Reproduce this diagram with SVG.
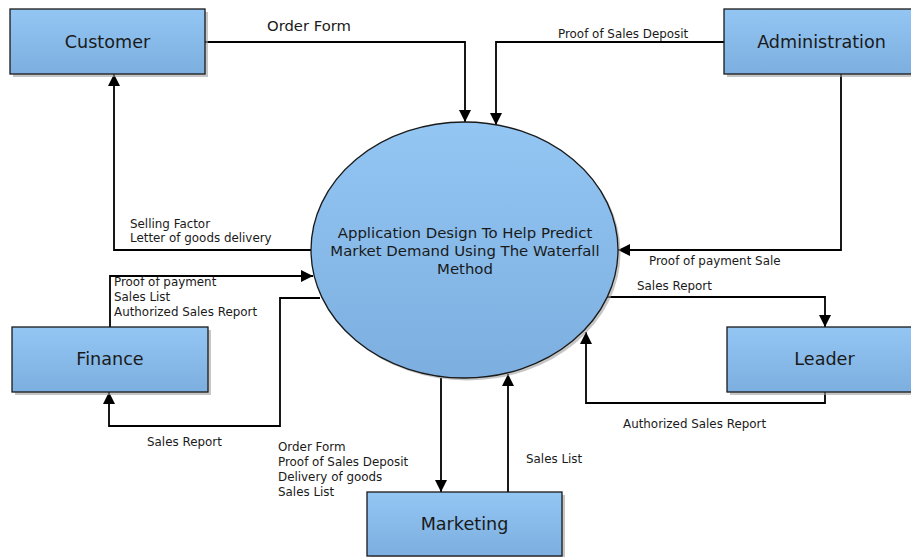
<svg xmlns="http://www.w3.org/2000/svg" width="911" height="557" viewBox="0 0 911 557">
<defs>
<linearGradient id="g" x1="0" y1="0" x2="0" y2="1">
<stop offset="0" stop-color="#93c6f3"/>
<stop offset="1" stop-color="#7cafdf"/>
</linearGradient>
<marker id="a" viewBox="0 0 12 12" refX="12" refY="6" markerWidth="12" markerHeight="12" markerUnits="userSpaceOnUse" orient="auto">
<path d="M0,0 L12,6 L0,12 Z" fill="#000"/>
</marker>
</defs>
<style>
.box{fill:url(#g);stroke:#1a1a1a;stroke-width:1.3}
.sh{fill:#a0a0a0;opacity:0.6}
.nt{font-family:"DejaVu Sans",sans-serif;font-size:17.6px;fill:#1a1a1a;text-anchor:middle}
.ct{font-family:"DejaVu Sans",sans-serif;font-size:14.9px;fill:#1a1a1a;text-anchor:middle}
.lb{font-family:"DejaVu Sans",sans-serif;font-size:11.9px;fill:#1a1a1a}
.c{fill:none;stroke:#000;stroke-width:1.8;marker-end:url(#a)}
</style>
<rect width="911" height="557" fill="#fff"/>
<g id="connectors">
<polyline class="c" points="205,42 465,42 465,122"/>
<polyline class="c" points="724,42 496,42 496,125"/>
<polyline class="c" points="841,74 841,250 618,250"/>
<polyline class="c" points="606,297 825,297 825,327"/>
<polyline class="c" points="825,392 825,403 586,403 586,332"/>
<polyline class="c" points="311,250 114,250 114,74"/>
<polyline class="c" points="110,327 110,276 313,276"/>
<polyline class="c" points="320,298 280,298 280,426 109,426 109,392"/>
<polyline class="c" points="441,378 441,492"/>
<polyline class="c" points="508,492 508,374"/>
</g>
<g id="labels">
<text class="lb" x="267" y="31" style="font-size:14.8px">Order Form</text>
<text class="lb" x="558" y="38">Proof of Sales Deposit</text>
<text class="lb" x="649" y="265">Proof of payment Sale</text>
<text class="lb" x="637" y="290">Sales Report</text>
<text class="lb" x="623" y="428">Authorized Sales Report</text>
<text class="lb" x="130" y="228">Selling Factor</text>
<text class="lb" x="130" y="242">Letter of goods delivery</text>
<text class="lb" x="114" y="286">Proof of payment</text>
<text class="lb" x="114" y="301">Sales List</text>
<text class="lb" x="114" y="316">Authorized Sales Report</text>
<text class="lb" x="147" y="446">Sales Report</text>
<text class="lb" x="278" y="451">Order Form</text>
<text class="lb" x="278" y="466">Proof of Sales Deposit</text>
<text class="lb" x="278" y="481">Delivery of goods</text>
<text class="lb" x="278" y="496">Sales List</text>
<text class="lb" x="526" y="463">Sales List</text>
</g>
<g id="process">
<ellipse class="sh" cx="467" cy="252.5" rx="153.5" ry="128"/>
<ellipse class="box" cx="464.5" cy="250" rx="153.5" ry="128"/>
<text class="ct" x="465" y="238">Application Design To Help Predict</text>
<text class="ct" x="465" y="256">Market Demand Using The Waterfall</text>
<text class="ct" x="465" y="274">Method</text>
</g>
<g id="customer">
<rect class="sh" x="13" y="12" width="195" height="65"/>
<rect class="box" x="10" y="9" width="195" height="65"/>
<text class="nt" x="107.5" y="48">Customer</text>
</g>
<g id="administration">
<rect class="sh" x="727" y="12" width="195" height="65"/>
<rect class="box" x="724" y="9" width="195" height="65"/>
<text class="nt" x="821.5" y="48">Administration</text>
</g>
<g id="finance">
<rect class="sh" x="15" y="330" width="196" height="65"/>
<rect class="box" x="12" y="327" width="196" height="65"/>
<text class="nt" x="110" y="365">Finance</text>
</g>
<g id="leader">
<rect class="sh" x="730" y="330" width="195" height="65"/>
<rect class="box" x="727" y="327" width="195" height="65"/>
<text class="nt" x="824.5" y="365">Leader</text>
</g>
<g id="marketing">
<rect class="sh" x="370" y="495" width="195" height="64"/>
<rect class="box" x="367" y="492" width="195" height="64"/>
<text class="nt" x="464.5" y="530">Marketing</text>
</g>
</svg>
